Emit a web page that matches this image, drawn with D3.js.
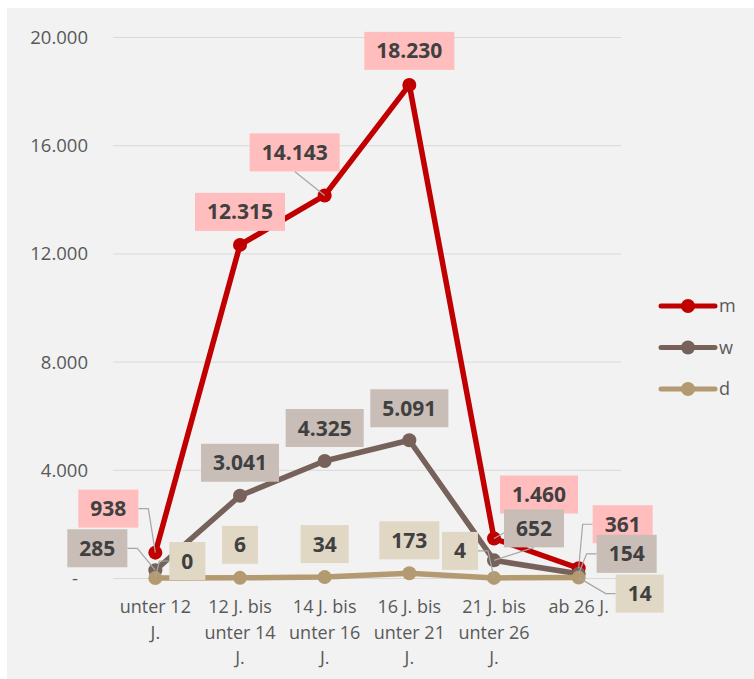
<!DOCTYPE html>
<html><head><meta charset="utf-8">
<script src="https://cdn.jsdelivr.net/npm/d3@7"></script>
<style>
html,body{margin:0;padding:0;background:#fff;}
svg{display:block;}
</style></head>
<body>
<svg id="chart" width="754" height="679"></svg>
<script>
// ---- data ----
const categories = [["unter 12","J."],["12 J. bis","unter 14","J."],["14 J. bis","unter 16","J."],["16 J. bis","unter 21","J."],["21 J. bis","unter 26","J."],["ab 26 J."]];
const seriesNames = ["m","w","d"];
const mValues = [938, 12315, 14143, 18230, 1460, 361];
const wValues = [285, 3041, 4325, 5091, 652, 154];
const dValues = [0, 6, 34, 173, 4, 14];
const yTicks = [0, 4000, 8000, 12000, 16000, 20000];

// ---- label placement (offsets of label box centre from its point, and leader style) ----
const mLabelLayout = [[-47,-44,"h"],[0,-33,""],[-30,-43,"b"],[0,-34,""],[45,-44,"b"],[44,-44,"h"]];
const wLabelLayout = [[-58,-22,"h"],[0,-33,""],[0,-33,""],[0,-32,""],[40,-32,"b"],[48,-20,"h"]];
const dLabelLayout = [[32,-17,"h"],[0,-33,""],[0,-33,""],[0,-33,""],[-34,-27,"h"],[61,16,"h"]];

const styles = {
  m:{line:"#c00000", box:"#ffbdbd"},
  w:{line:"#76625a", box:"#c9bdb7"},
  d:{line:"#b49a70", box:"#e1d7c5"}
};

const svg = d3.select("#chart");
svg.append("rect").attr("x",7).attr("y",8).attr("width",747).attr("height",671).attr("fill","#f2f2f2");

const x = d3.scalePoint().domain(d3.range(categories.length)).range([113,621]).padding(0.5);
const y = d3.scaleLinear().domain([0,20000]).range([578,37]);

const fmt = v => d3.format(",")(v).replace(/,/g,".");

// gridlines + y labels
const yAxis = d3.axisLeft(y).tickValues(yTicks).tickSize(-(621-113)).tickFormat(d => d===0 ? "-" : fmt(d));
const ga = svg.append("g").attr("transform","translate(113,0)").call(yAxis);
ga.select(".domain").remove();
ga.selectAll(".tick line").attr("stroke","#d9d9d9").attr("stroke-width",1);
ga.selectAll(".tick text").attr("x",-25).attr("dy","0.35em")
  .style("font-family","'Open Sans', sans-serif").style("font-size","18.5px").attr("fill","#595959");
ga.selectAll(".tick text").filter(d=>d===0).attr("x",-38).attr("text-anchor","middle");

// x labels
const xa = svg.append("g");
categories.forEach((lines,i)=>{
  const t = xa.append("text").attr("x",x(i)).attr("y",607).attr("text-anchor","middle")
    .style("font-family","'Open Sans', sans-serif").style("font-size","18px").attr("fill","#595959");
  lines.forEach((ln,k)=>{
    t.append("tspan").attr("x",x(i)).attr("y",607+k*25.5).attr("dy","0.35em").text(ln);
  });
});

const allSeries = [
  {name:"m", values:mValues, layout:mLabelLayout},
  {name:"w", values:wValues, layout:wLabelLayout},
  {name:"d", values:dValues, layout:dLabelLayout}
];

const line = d3.line().x((d,i)=>x(i)).y(d=>y(d));
allSeries.forEach(s=>{
  const g = svg.append("g");
  g.append("path").attr("d",line(s.values)).attr("fill","none")
    .attr("stroke",styles[s.name].line).attr("stroke-width",5.5).attr("stroke-linejoin","round").attr("stroke-linecap","round");
  g.selectAll("circle").data(s.values).join("circle")
    .attr("cx",(d,i)=>x(i)).attr("cy",d=>y(d)).attr("r",7).attr("fill",styles[s.name].line);
});

// labels
const leaderG = svg.append("g");
const boxG = svg.append("g");
const boxH = 38;
allSeries.forEach(s=>{
  s.values.forEach((v,i)=>{
    const px = x(i), py = y(v);
    const [dx,dy,lead] = s.layout[i];
    const cx = px+dx, cy = py+dy;
    const g = boxG.append("g");
    const rect = g.append("rect").attr("fill",styles[s.name].box);
    const t = g.append("text").attr("x",cx).attr("y",cy).attr("dy","0.36em").attr("text-anchor","middle")
      .style("font-family","'Open Sans', sans-serif").style("font-size","21px").style("font-weight","700")
      .attr("fill","#404040").text(fmt(v));
    const w = t.node().getComputedTextLength()+24;
    rect.attr("x",cx-w/2).attr("y",cy-boxH/2).attr("width",w).attr("height",boxH);
    if(lead==="h"){
      const ex = px < cx ? cx-w/2 : cx+w/2;
      const elb = px < cx ? ex-10 : ex+10;
      leaderG.append("polyline").attr("points",`${ex},${cy} ${elb},${cy} ${px},${py}`)
        .attr("fill","none").attr("stroke","#a6a6a6").attr("stroke-width",1.2);
    } else if(lead==="b"){
      leaderG.append("polyline").attr("points",`${cx},${cy+boxH/2} ${px},${py}`)
        .attr("fill","none").attr("stroke","#a6a6a6").attr("stroke-width",1.2);
    }
  });
});

// legend
const lg = svg.append("g");
seriesNames.forEach((n,k)=>{
  const ly = 306 + k*41.5;
  lg.append("line").attr("x1",661).attr("x2",715).attr("y1",ly).attr("y2",ly)
    .attr("stroke",styles[n].line).attr("stroke-width",5).attr("stroke-linecap","round");
  lg.append("circle").attr("cx",688).attr("cy",ly).attr("r",7).attr("fill",styles[n].line);
  lg.append("text").attr("x",719).attr("y",ly).attr("dy","0.35em")
    .style("font-family","'Open Sans', sans-serif").style("font-size","18px").attr("fill","#595959").text(n);
});
</script>
</body></html>
